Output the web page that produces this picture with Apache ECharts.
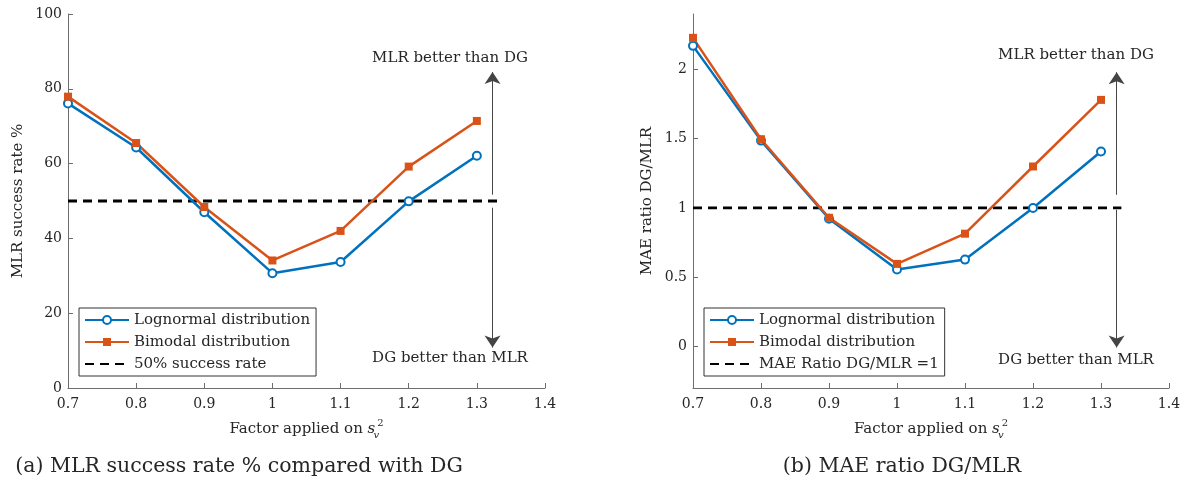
<!DOCTYPE html>
<html>
<head>
<meta charset="utf-8">
<script src="https://cdn.jsdelivr.net/npm/echarts@6/dist/echarts.min.js"></script>
<style>html,body{margin:0;padding:0;background:#fff}#c{width:1184px;height:491px}</style>
</head>
<body>
<div id="c"></div>
<script>
// ---- data ----
const factors = [0.7, 0.8, 0.9, 1.0, 1.1, 1.2, 1.3];
const successLognormal = [76.1, 64.3, 47.0, 30.7, 33.7, 49.9, 62.1];
const successBimodal   = [77.9, 65.5, 48.4, 34.1, 42.0, 59.2, 71.4];
const maeLognormal = [2.17, 1.486, 0.922, 0.555, 0.627, 0.999, 1.407];
const maeBimodal   = [2.228, 1.496, 0.929, 0.596, 0.814, 1.299, 1.78];
const successRef = 50;
const maeRef = 1;
const refLineEnd = 1.33;
const arrowX = 1.323;
const successArrows = [[51.7, 84.5], [48.2, 10.8]];
const maeArrows = [[1.095, 1.98], [0.987, -0.007]];
const rightYTicks = [0, 0.5, 1, 1.5, 2];

const BLUE = '#0072BD', ORANGE = '#D95319', TXT = '#262626', AX = '#6e6e6e';
const FONT = 'DejaVu Serif';

const pair = (xs, ys) => xs.map((x, i) => [x, ys[i]]);

function xAxisOpt(idx) {
  return {
    type: 'value', gridIndex: idx, min: 0.7, max: 1.4, interval: 0.1,
    axisLine: { show: true, onZero: false, lineStyle: { color: AX, width: 1 } },
    axisTick: { show: true, inside: true, length: 5, lineStyle: { color: AX } },
    splitLine: { show: false },
    axisLabel: { color: TXT, fontFamily: FONT, fontSize: 14, margin: 9,
      formatter: v => String(Math.round(v * 10) / 10) },
    name: '{t|Factor applied on }{i|s}{sub|v}{sup|2}',
    nameLocation: 'middle', nameGap: 30,
    nameTextStyle: {
      color: TXT, fontFamily: FONT,
      rich: {
        t: { fontFamily: FONT, fontSize: 15, color: TXT, lineHeight: 22 },
        i: { fontFamily: FONT, fontSize: 15, color: TXT, fontStyle: 'italic', lineHeight: 22 },
        sub: { fontFamily: FONT, fontSize: 10, color: TXT, fontStyle: 'italic', width: 0, verticalAlign: 'bottom', lineHeight: 22, padding: [9, 0, 0, 1] },
        sup: { fontFamily: FONT, fontSize: 10, color: TXT, verticalAlign: 'top', lineHeight: 22, padding: [0, 0, 8, 1] }
      }
    }
  };
}

function lineSeries(name, xi, data, color, symbol) {
  const s = {
    name, type: 'line', xAxisIndex: xi, yAxisIndex: xi, data,
    lineStyle: { color, width: 2.5 },
    symbolSize: 8,
    animation: false,
    z: 3
  };
  if (symbol === 'circle') {
    s.symbol = 'emptyCircle';
    s.itemStyle = { color, borderColor: color, borderWidth: 2 };
  } else {
    s.symbol = 'rect';
    s.itemStyle = { color, borderColor: color, borderWidth: 0 };
  }
  return s;
}

function refSeries(name, xi, y, arrows) {
  return {
    name, type: 'line', xAxisIndex: xi, yAxisIndex: xi,
    data: [[0.7, y], [refLineEnd, y]],
    symbol: 'none',
    itemStyle: { color: 'rgba(0,0,0,0)', borderWidth: 0 },
    lineStyle: { color: '#000', width: 2.8, type: [9, 6] },
    animation: false, z: 2,
    markLine: {
      silent: true, animation: false,
      symbol: ['none', 'arrow'], symbolSize: 12,
      label: { show: false },
      itemStyle: { color: '#222' },
      lineStyle: { color: '#444', width: 1, type: 'solid' },
      data: arrows.map(a => [{ coord: [arrowX, a[0]] }, { coord: [arrowX, a[1]] }])
    }
  };
}

function legendOpt(left, names) {
  return {
    data: names, orient: 'vertical', left, top: 308,
    itemWidth: 44, itemHeight: 10, itemGap: 6,
    padding: [4, 6, 4, 5],
    borderColor: '#333', borderWidth: 1, backgroundColor: '#fff',
    selectedMode: false,
    textStyle: { color: TXT, fontFamily: FONT, fontSize: 15, lineHeight: 16 }
  };
}

function annText(x, y, t, size) {
  return { type: 'text', x, y, style: { text: t, fill: TXT, font: `${size || 15}px "${FONT}"`, textAlign: 'center', textVerticalAlign: 'middle' } };
}

const chart = echarts.init(document.getElementById('c'), null, { renderer: 'canvas' });
chart.setOption({
  backgroundColor: '#fff',
  animation: false,
  grid: [
    { left: 68, right: 639, top: 14, bottom: 103 },
    { left: 693, right: 15, top: 14, bottom: 103 }
  ],
  xAxis: [xAxisOpt(0), xAxisOpt(1)],
  yAxis: [
    {
      type: 'value', gridIndex: 0, min: 0, max: 100, interval: 20,
      axisLine: { show: true, lineStyle: { color: AX } },
      axisTick: { show: true, inside: true, length: 5, lineStyle: { color: AX } },
      splitLine: { show: false },
      axisLabel: { color: TXT, fontFamily: FONT, fontSize: 14, margin: 6 },
      name: 'MLR success rate %', nameLocation: 'middle', nameGap: 42,
      nameTextStyle: { color: TXT, fontFamily: FONT, fontSize: 15 }
    },
    {
      type: 'value', gridIndex: 1, min: -0.3, max: 2.4,
      axisLine: { show: true, lineStyle: { color: AX } },
      axisTick: { show: true, inside: true, length: 5, lineStyle: { color: AX }, customValues: rightYTicks },
      splitLine: { show: false },
      axisLabel: { color: TXT, fontFamily: FONT, fontSize: 14, margin: 6, customValues: rightYTicks },
      name: 'MAE ratio DG/MLR', nameLocation: 'middle', nameGap: 38,
      nameTextStyle: { color: TXT, fontFamily: FONT, fontSize: 15 }
    }
  ],
  legend: [
    legendOpt(79, ['Lognormal distribution', 'Bimodal distribution', '50% success rate']),
    legendOpt(704, ['Lognormal distribution', 'Bimodal distribution', 'MAE Ratio DG/MLR =1'])
  ],
  series: [
    lineSeries('Lognormal distribution', 0, pair(factors, successLognormal), BLUE, 'circle'),
    lineSeries('Bimodal distribution', 0, pair(factors, successBimodal), ORANGE, 'rect'),
    refSeries('50% success rate', 0, successRef, successArrows),
    lineSeries('Lognormal distribution', 1, pair(factors, maeLognormal), BLUE, 'circle'),
    lineSeries('Bimodal distribution', 1, pair(factors, maeBimodal), ORANGE, 'rect'),
    refSeries('MAE Ratio DG/MLR =1', 1, maeRef, maeArrows)
  ],
  graphic: [
    annText(450, 58, 'MLR better than DG'),
    annText(450, 358, 'DG better than MLR'),
    annText(1076, 55, 'MLR better than DG'),
    annText(1076, 360, 'DG better than MLR'),
    annText(239, 467, '(a) MLR success rate % compared with DG', 20.5),
    annText(902, 467, '(b) MAE ratio DG/MLR', 20.5)
  ]
});
</script>
</body>
</html>
